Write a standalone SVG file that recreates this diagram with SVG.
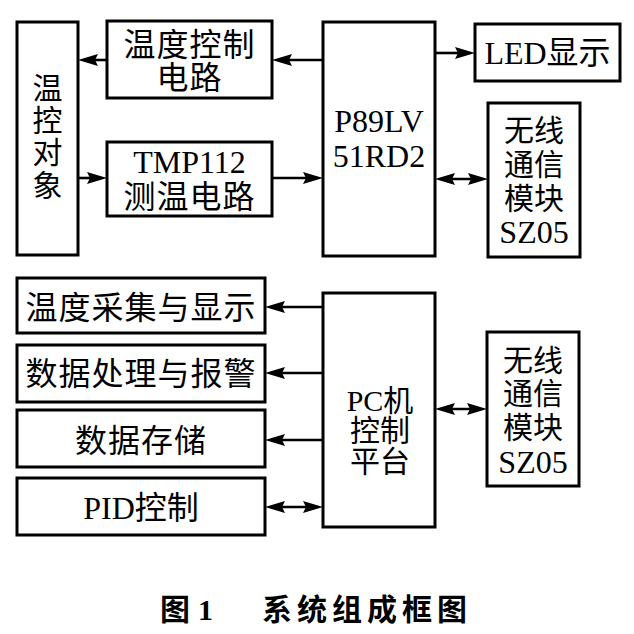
<svg xmlns="http://www.w3.org/2000/svg" width="634" height="634" viewBox="0 0 634 634">
<style>
.box{fill:#fff;stroke:#000;stroke-width:3}
.t{font-family:"Liberation Serif","Noto Sans CJK SC",serif;font-size:32px;text-anchor:middle;fill:#000}
.s{font-size:30px}
.c{stroke:#000;stroke-width:2.6;fill:none}
.cap{font-family:"Liberation Serif","Noto Sans CJK SC",sans-serif;font-size:30px;font-weight:bold;fill:#000}
</style>
<defs>
<marker id="ah" markerUnits="userSpaceOnUse" markerWidth="20" markerHeight="12" refX="12" refY="6" orient="auto-start-reverse">
<path d="M0,0 L20,6 L0,12 L3,6 z" fill="#000"/>
</marker>
</defs>
<rect width="634" height="634" fill="#fff"/>
<g id="connectors">
<path class="c" d="M323,60 H280" marker-end="url(#ah)"/>
<path class="c" d="M107,60 H86" marker-end="url(#ah)"/>
<path class="c" d="M78,178 H99" marker-end="url(#ah)"/>
<path class="c" d="M272,178 H315" marker-end="url(#ah)"/>
<path class="c" d="M435,53 H467" marker-end="url(#ah)"/>
<path class="c" d="M443,179 H480" marker-start="url(#ah)" marker-end="url(#ah)"/>
<path class="c" d="M323,307 H273" marker-end="url(#ah)"/>
<path class="c" d="M323,373 H273" marker-end="url(#ah)"/>
<path class="c" d="M323,440 H273" marker-end="url(#ah)"/>
<path class="c" d="M273,507 H315" marker-start="url(#ah)" marker-end="url(#ah)"/>
<path class="c" d="M443,409 H479" marker-start="url(#ah)" marker-end="url(#ah)"/>
</g>
<g id="obj">
<rect class="box" x="17" y="22" width="61" height="233"/>
<text class="t s" x="47.5" y="99">温</text>
<text class="t s" x="47.5" y="131">控</text>
<text class="t s" x="47.5" y="163">对</text>
<text class="t s" x="47.5" y="196">象</text>
</g>
<g id="tctrl">
<rect class="box" x="107" y="21" width="165" height="77"/>
<text class="t" x="189.5" y="56" letter-spacing="1">温度控制</text>
<text class="t" x="189.5" y="89" letter-spacing="1">电路</text>
</g>
<g id="tmp">
<rect class="box" x="107" y="142" width="165" height="74"/>
<text class="t" x="189.5" y="173">TMP112</text>
<text class="t" x="189.5" y="208" letter-spacing="1">测温电路</text>
</g>
<g id="mcu">
<rect class="box" x="323" y="22" width="112" height="234"/>
<text class="t" x="379" y="132">P89LV</text>
<text class="t" x="379" y="167">51RD2</text>
</g>
<g id="led">
<rect class="box" x="475" y="24" width="145" height="57"/>
<text class="t" x="547.5" y="64">LED显示</text>
</g>
<g id="wl1">
<rect class="box" x="488" y="103" width="92" height="154"/>
<text class="t s" x="534" y="141">无线</text>
<text class="t s" x="534" y="175">通信</text>
<text class="t s" x="534" y="209">模块</text>
<text class="t" x="534" y="243">SZ05</text>
</g>
<g id="acq">
<rect class="box" x="17" y="278" width="248" height="55"/>
<text class="t" x="141" y="319" letter-spacing="1">温度采集与显示</text>
</g>
<g id="proc">
<rect class="box" x="17" y="345" width="248" height="57"/>
<text class="t" x="141" y="385" letter-spacing="1">数据处理与报警</text>
</g>
<g id="store">
<rect class="box" x="17" y="410" width="248" height="57"/>
<text class="t" x="141" y="452" letter-spacing="1">数据存储</text>
</g>
<g id="pid">
<rect class="box" x="17" y="478" width="248" height="57"/>
<text class="t" x="141" y="519">PID控制</text>
</g>
<g id="pc">
<rect class="box" x="323" y="293" width="112" height="234"/>
<text class="t s" x="380" y="411">PC机</text>
<text class="t s" x="380" y="441">控制</text>
<text class="t s" x="380" y="472">平台</text>
</g>
<g id="wl2">
<rect class="box" x="487" y="332" width="92" height="154"/>
<text class="t s" x="533" y="371">无线</text>
<text class="t s" x="533" y="404">通信</text>
<text class="t s" x="533" y="438">模块</text>
<text class="t" x="533" y="473">SZ05</text>
</g>
<g id="caption">
<text class="cap" x="160" y="620">图</text>
<text class="cap" x="198" y="620">1</text>
<text class="cap" x="262" y="620" letter-spacing="5">系统组成框图</text>
</g>
</svg>
